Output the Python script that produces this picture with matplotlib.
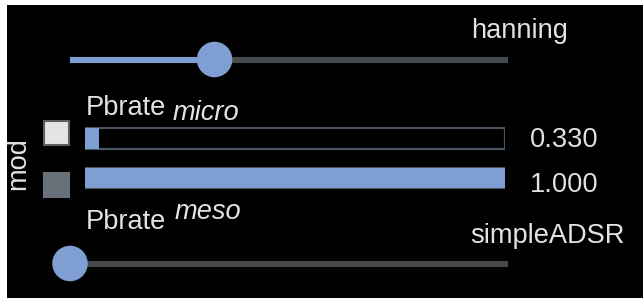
import matplotlib
matplotlib.use("Agg")
import matplotlib.pyplot as plt
from matplotlib.patches import Rectangle

# ---- data ----
slider_names = ["hanning", "simpleADSR"]
slider_values = [0.33, 0.0]
bar_labels = ["0.330", "1.000"]
bar_values = [0.330, 1.000]
bar_ranges = [10.0, 1.0]          # display range of each meter
mod_states = [True, False]        # mod toggles (on / off)

# ---- style ----
BG = "#000000"
BLUE = "#7f9fd2"
TRACK = "#464a4f"
OUTLINE = "#4a5562"
TXT = "#e2e2e2"
FONT = "Liberation Sans"
FS = 19.6

W, H = 643, 298
fig = plt.figure(figsize=(W / 100, H / 100), dpi=100, facecolor="white")

def px_axes(x0, y0, x1, y1):
    """axes from pixel box (top-left origin)"""
    return fig.add_axes([x0 / W, 1 - y1 / H, (x1 - x0) / W, (y1 - y0) / H])

# background / text layer in pixel coordinates
bg = fig.add_axes([0, 0, 1, 1])
bg.set_xlim(0, W)
bg.set_ylim(H, 0)
bg.axis("off")
bg.add_patch(Rectangle((7, 5), W - 7, H - 5, facecolor=BG, edgecolor="none"))

# ---- sliders ----
slider_rows = [59.5, 263.5]
for name, val, yc in zip(slider_names, slider_values, slider_rows):
    ax = px_axes(70, yc - 20, 508, yc + 20)
    ax.set_xlim(0, 1)
    ax.set_ylim(-1, 1)
    ax.axis("off")
    ax.plot([0, 1], [0, 0], color=TRACK, lw=4.4, solid_capstyle="butt")
    if val > 0:
        ax.plot([0, val], [0, 0], color=BLUE, lw=4.4, solid_capstyle="butt")
    ax.scatter([val], [0], s=655, color=BLUE, zorder=5, clip_on=False,
               edgecolors="none")

bg.text(471, 38, slider_names[0], color=TXT, fontsize=FS, family=FONT,
        va="baseline", ha="left")
bg.text(470, 243, slider_names[1], color=TXT, fontsize=FS, family=FONT,
        va="baseline", ha="left")

# ---- meters ----
bax = px_axes(85, 118.75, 505, 197.75)
bax.set_xlim(0, 1)
bax.set_ylim(1.5, -0.5)
bax.axis("off")
ys = list(range(len(bar_values)))
fracs = [v / r for v, r in zip(bar_values, bar_ranges)]
bax.barh(ys, [1] * len(ys), height=0.53, color="none", edgecolor=OUTLINE,
         linewidth=1.6)
bax.barh(ys, fracs, height=0.53, color=BLUE, edgecolor="none")

for lab, yc in zip(bar_labels, [137, 182]):
    bg.text(530, yc, lab, color=TXT, fontsize=FS, family=FONT,
            va="center_baseline", ha="left")

# ---- mod toggles ----
for on, yc in zip(mod_states, [132.5, 185]):
    face = "#e4e4e4" if on else "#687079"
    edge = "#5a5f64" if on else "#687079"
    bg.add_patch(Rectangle((44, yc - 12), 25, 24, facecolor=face,
                           edgecolor=edge, linewidth=1.5))
bg.text(18, 164, "mod", color=TXT, fontsize=FS, family=FONT, rotation=90,
        ha="center", va="center")

# ---- Pbrate labels ----
bg.text(86, 115, "Pbrate", color=TXT, fontsize=FS, family=FONT, va="baseline")
bg.text(173, 120, "micro", color=TXT, fontsize=FS, family=FONT,
        style="italic", va="baseline")
bg.text(86, 229, "Pbrate", color=TXT, fontsize=FS, family=FONT, va="baseline")
bg.text(175, 219, "meso", color=TXT, fontsize=FS, family=FONT,
        style="italic", va="baseline")

fig.savefig("out.png", dpi=100, facecolor="white")
